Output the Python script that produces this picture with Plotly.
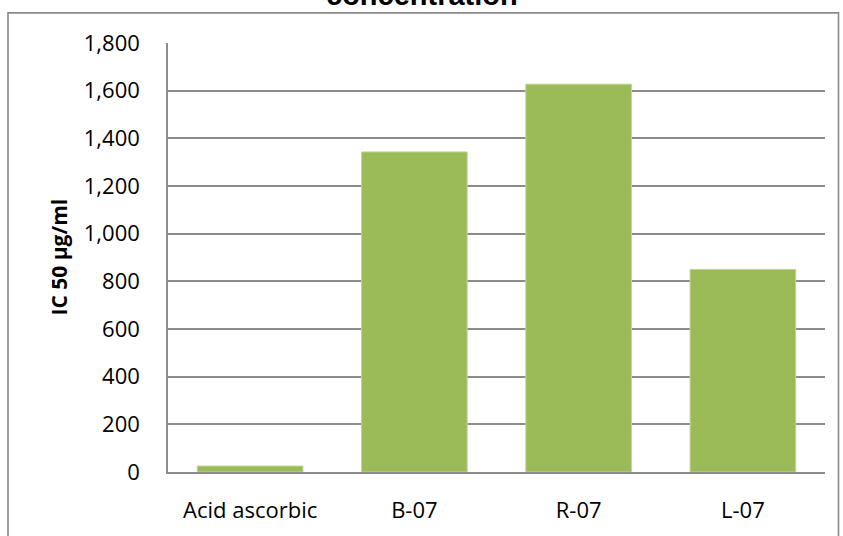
import plotly.graph_objects as go

# IC50 values per sample (µg/ml)
categories = ["Acid ascorbic", "B-07", "R-07", "L-07"]
ic50_values = [25, 1343, 1627, 850]

y_tickvals = [0, 200, 400, 600, 800, 1000, 1200, 1400, 1600, 1800]
y_ticktext = ["0", "200", "400", "600", "800", "1,000", "1,200", "1,400", "1,600", "1,800"]

W, H = 843, 536
ML, MR, MT, MB = 168, 18, 43, 62
PW, PH = W - ML - MR, H - MT - MB


def px_to_paper_x(px):
    return (px - ML) / PW


def px_to_paper_y(py):
    return (H - MB - py) / PH


GRID = "#8c8c8c"
TICK_FONT = dict(family="Open Sans, Noto Sans, sans-serif", size=22, color="#000000")

fig = go.Figure(
    go.Bar(
        x=categories,
        y=ic50_values,
        marker=dict(color="#9bbb59", line=dict(color="#bfd590", width=1)),
        hoverinfo="x+y",
    )
)

fig.update_layout(
    width=W,
    height=H,
    margin=dict(l=ML, r=MR, t=MT, b=MB, pad=0),
    paper_bgcolor="#ffffff",
    plot_bgcolor="#ffffff",
    bargap=0.357,
    showlegend=False,
    font=TICK_FONT,
    xaxis=dict(
        showgrid=False,
        showline=True,
        linecolor=GRID,
        linewidth=2,
        ticks="",
        tickfont=TICK_FONT,
        ticklabelstandoff=18,
        fixedrange=True,
    ),
    yaxis=dict(
        range=[0, 1800],
        tickvals=y_tickvals,
        ticktext=y_ticktext,
        showgrid=True,
        gridcolor=GRID,
        gridwidth=1.6,
        showline=True,
        linecolor=GRID,
        linewidth=1.6,
        zeroline=False,
        ticks="",
        tickfont=TICK_FONT,
        ticklabelstandoff=22,
        fixedrange=True,
    ),
    annotations=[
        dict(
            text="<b>IC 50 µg/ml</b>",
            xref="paper",
            yref="paper",
            x=px_to_paper_x(58),
            y=0.5,
            xanchor="center",
            yanchor="middle",
            textangle=-90,
            showarrow=False,
            font=dict(family="Open Sans, Noto Sans, sans-serif", size=21, color="#000000"),
        ),
        dict(
            text="<b>concentration</b>",
            xref="paper",
            yref="paper",
            x=px_to_paper_x(W / 2),
            y=px_to_paper_y(13),
            xanchor="center",
            yanchor="bottom",
            showarrow=False,
            font=dict(family="Liberation Sans, Arial, sans-serif", size=29, color="#000000"),
        ),
    ],
    shapes=[
        dict(
            type="rect",
            xref="paper",
            yref="paper",
            x0=px_to_paper_x(8),
            x1=px_to_paper_x(838.5),
            y0=px_to_paper_y(540),
            y1=px_to_paper_y(12.7),
            line=dict(color="#8a8a8a", width=1.6),
            fillcolor="rgba(0,0,0,0)",
            layer="below",
        )
    ],
)

fig.write_html("out.html")
